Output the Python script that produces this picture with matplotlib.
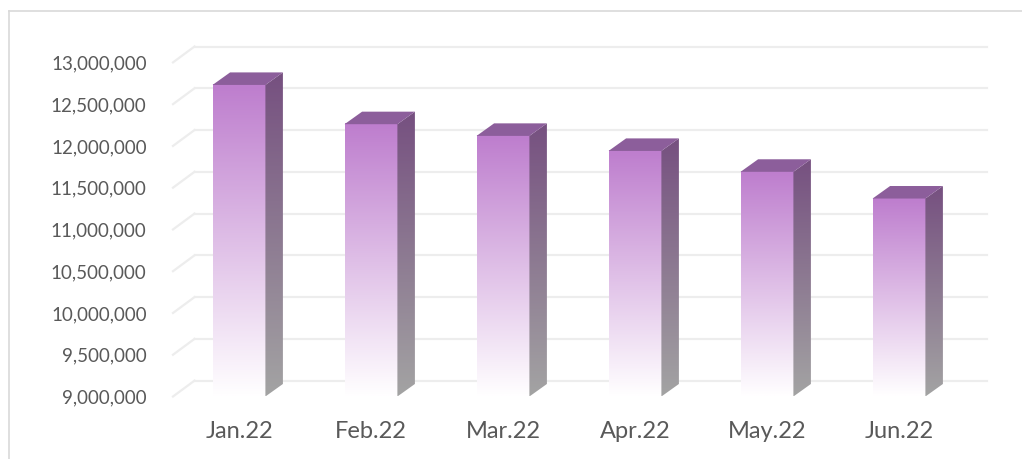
import numpy as np
import matplotlib
matplotlib.use('Agg')
import matplotlib.pyplot as plt
from matplotlib.patches import Polygon
from matplotlib.lines import Line2D

# data
months = ['Jan.22', 'Feb.22', 'Mar.22', 'Apr.22', 'May.22', 'Jun.22']
values = [12730000, 12260000, 12120000, 11940000, 11690000, 11370000]
yticks = [9000000, 9500000, 10000000, 10500000, 11000000,
          11500000, 12000000, 12500000, 13000000]

plt.rcParams['font.family'] = ['Lato', 'DejaVu Sans']

fig = plt.figure(figsize=(10.22, 4.59), dpi=100)
ax = fig.add_axes([173 / 1022, (459 - 396.5) / 459, 792 / 1022, 355 / 459])

ymin = yticks[0]
ymax = 13250000
bw = 0.40          # front face width (categories)
bdx = 0.1326       # bar depth, x offset
bdy = 150000       # bar depth, y offset
wdx = 0.163        # wall depth, x offset
wdy = 190000       # wall depth, y offset
grid_col = '#EDEDED'

# back wall gridlines + left wall diagonals
for t in yticks:
    ax.plot([-0.5 + wdx, 5.5 + wdx], [t + wdy, t + wdy], color=grid_col,
            lw=1.6, clip_on=False, zorder=1)
    ax.plot([-0.5, -0.5 + wdx], [t, t + wdy], color=grid_col,
            lw=1.6, clip_on=False, zorder=1)

top_rgb = np.array([190, 126, 206]) / 255
bot_rgb = np.array([255, 254, 255]) / 255
side_top = np.array([118, 80, 128]) / 255
side_bot = np.array([163, 163, 163]) / 255
top_face = '#8C5E9B'

n = 64
f = np.linspace(0, 1, n)[:, None]
front_grad = (top_rgb * (1 - f) + bot_rgb * f)[:, None, :]
side_grad = (side_top * (1 - f) + side_bot * f)[:, None, :]

for i, v in enumerate(values):
    x0, x1 = i - bw / 2, i + bw / 2
    # front face
    ax.imshow(front_grad, extent=[x0, x1, ymin, v], aspect='auto',
              origin='upper', zorder=3, interpolation='bilinear')
    # right side face
    side = Polygon([(x1, ymin), (x1 + bdx, ymin + bdy), (x1 + bdx, v + bdy), (x1, v)],
                   closed=True, transform=ax.transData, facecolor='none', edgecolor='none')
    im = ax.imshow(side_grad, extent=[x1, x1 + bdx, ymin, v + bdy], aspect='auto',
                   origin='upper', zorder=3, interpolation='bilinear')
    im.set_clip_path(side)
    # top face
    ax.add_patch(Polygon([(x0, v), (x0 + bdx, v + bdy), (x1 + bdx, v + bdy), (x1, v)],
                         closed=True, facecolor=top_face, edgecolor='none', zorder=4))

ax.set_xlim(-0.5, 5.5)
ax.set_ylim(ymin, ymax)
ax.set_xticks(range(len(months)))
ax.set_xticklabels(months)
ax.set_yticks(yticks)
ax.set_yticklabels([f'{t:,}' for t in yticks])
ax.tick_params(axis='both', length=0, colors='#595959')
ax.tick_params(axis='y', pad=19, labelsize=13.5)
ax.tick_params(axis='x', pad=18, labelsize=17)
for s in ax.spines.values():
    s.set_visible(False)

# chart frame (partly cropped)
fig.add_artist(Line2D([9 / 1022, 9 / 1022], [0, 1 - 11 / 459], color='#D9D9D9', lw=1.2))
fig.add_artist(Line2D([9 / 1022, 1], [1 - 11 / 459, 1 - 11 / 459], color='#D9D9D9', lw=1.2))

fig.savefig('out.png', dpi=100)
